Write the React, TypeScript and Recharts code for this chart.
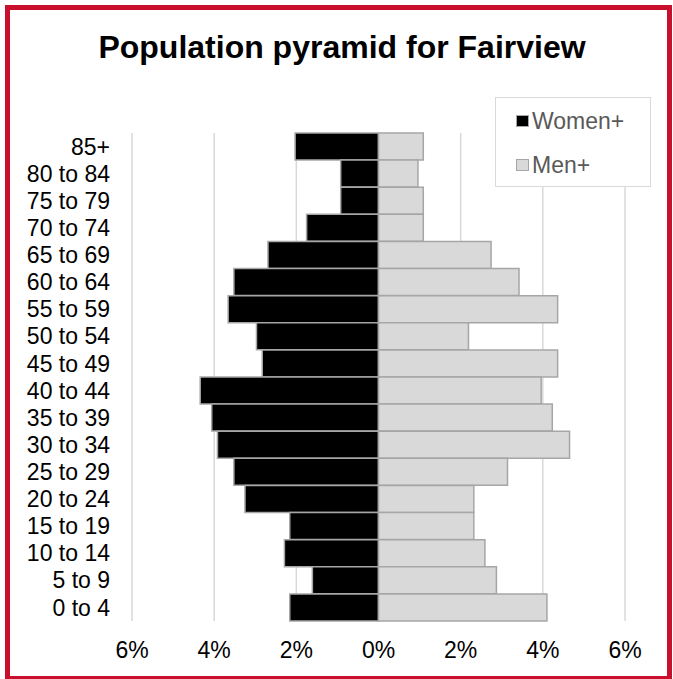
import { BarChart, Bar, XAxis, YAxis, CartesianGrid } from 'recharts'

const AGE_GROUPS = [
  '85+', '80 to 84', '75 to 79', '70 to 74', '65 to 69', '60 to 64',
  '55 to 59', '50 to 54', '45 to 49', '40 to 44', '35 to 39', '30 to 34',
  '25 to 29', '20 to 24', '15 to 19', '10 to 14', '5 to 9', '0 to 4',
]
// percent of population
const WOMEN = [2.03, 0.92, 0.92, 1.75, 2.69, 3.52, 3.66, 2.97, 2.83, 4.34, 4.06, 3.92, 3.52, 3.25, 2.16, 2.29, 1.61, 2.16]
const MEN = [1.09, 0.96, 1.09, 1.09, 2.74, 3.42, 4.36, 2.19, 4.36, 3.96, 4.23, 4.65, 3.14, 2.32, 2.32, 2.59, 2.87, 4.1]
const X_TICKS = [-6, -4, -2, 0, 2, 4, 6]

const FONT = '"Liberation Sans", Arial, sans-serif'
const COLORS = {
  women: '#000000',
  men: '#d9d9d9',
  edge: '#a6a6a6',
  grid: '#d9d9d9',
  border: '#c8102e',
}

// women go to the left, so they are stored negative
const chartData = AGE_GROUPS.map((age, i) => ({
  age,
  women: -WOMEN[i],
  men: MEN[i],
}))

function LegendItem({ color, label, top }: { color: string; label: string; top: number }) {
  return (
    <div style={{ position: 'absolute', left: 20, top, display: 'flex', alignItems: 'center' }}>
      <span
        style={{
          display: 'inline-block',
          width: 11,
          height: 10,
          background: color,
          border: `1.5px solid ${COLORS.edge}`,
          marginRight: 3,
        }}
      />
      <span style={{ fontSize: 23, color: '#595959', lineHeight: '26px' }}>{label}</span>
    </div>
  )
}

export default function App() {
  return (
    <div style={{ position: 'absolute', left: 0, top: 0, width: 673, height: 679, background: '#fff', fontFamily: FONT, overflow: 'hidden' }}>
      <div
        style={{
          position: 'absolute',
          left: 5,
          top: 5,
          width: 667,
          height: 676,
          boxSizing: 'border-box',
          border: `5px solid ${COLORS.border}`,
        }}
      />
      <div
        style={{
          position: 'absolute',
          left: 0,
          width: 684,
          top: 29,
          textAlign: 'center',
          fontSize: 32,
          fontWeight: 'bold',
          lineHeight: '36px',
          color: '#000',
        }}
      >
        Population pyramid for Fairview
      </div>

      <div style={{ position: 'absolute', left: 0, top: 0 }}>
        <BarChart
          width={673}
          height={679}
          data={chartData}
          layout="vertical"
          stackOffset="sign"
          barCategoryGap={0}
          margin={{ top: 133, right: 48, bottom: 28, left: 12 }}
        >
          <CartesianGrid horizontal={false} stroke={COLORS.grid} strokeWidth={1.5} />
          <XAxis
            type="number"
            domain={[-6, 6]}
            ticks={X_TICKS}
            tickFormatter={(v: number) => `${Math.abs(v)}%`}
            axisLine={false}
            tickLine={false}
            tickSize={0}
            tickMargin={21}
            height={30}
            tick={{ fontSize: 23, fill: '#000', fontFamily: FONT }}
          />
          <YAxis
            type="category"
            dataKey="age"
            width={120}
            axisLine={false}
            tickLine={false}
            tickSize={0}
            tickMargin={22}
            interval={0}
            tick={{ fontSize: 23, fill: '#000', fontFamily: FONT }}
          />
          <Bar dataKey="women" stackId="pop" fill={COLORS.women} stroke={COLORS.edge} strokeWidth={1.5} isAnimationActive={false} />
          <Bar dataKey="men" stackId="pop" fill={COLORS.men} stroke={COLORS.edge} strokeWidth={1.5} isAnimationActive={false} />
        </BarChart>
      </div>

      <div
        style={{
          position: 'absolute',
          left: 495,
          top: 97,
          width: 156,
          height: 90,
          boxSizing: 'border-box',
          border: `1.5px solid ${COLORS.grid}`,
          background: '#fff',
        }}
      >
        <LegendItem color={COLORS.women} label="Women+" top={10} />
        <LegendItem color={COLORS.men} label="Men+" top={54} />
      </div>
    </div>
  )
}
